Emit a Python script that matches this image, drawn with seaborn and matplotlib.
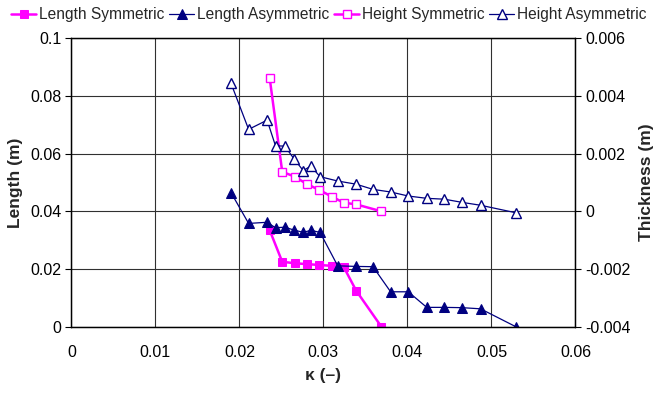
"""Length / thickness vs kappa, symmetric and asymmetric cases"""
import numpy as np
import pandas as pd
import seaborn as sns
import matplotlib.pyplot as plt
from matplotlib.ticker import FuncFormatter, MultipleLocator

# kappa values (x)
kappa_sym = [0.0236, 0.0251, 0.0266, 0.0280, 0.0295, 0.0310, 0.0324, 0.0339, 0.0369]
kappa_asym = [0.0190, 0.0211, 0.0233, 0.0243, 0.0254, 0.0265, 0.0276, 0.0285, 0.0296,
              0.0317, 0.0339, 0.0359, 0.0380, 0.0401, 0.0423, 0.0444, 0.0465, 0.0487, 0.0529]

# left axis: length (m)
length_sym = [0.0335, 0.0225, 0.0220, 0.0217, 0.0214, 0.0211, 0.0208, 0.0125, 0.0]
length_asym = [0.0465, 0.0358, 0.0362, 0.0343, 0.0345, 0.0335, 0.0327, 0.0334, 0.0327,
               0.0211, 0.0209, 0.0208, 0.0121, 0.0121, 0.0067, 0.0067, 0.0066, 0.0062, 0.0]

# right axis: thickness (m)
height_sym = [0.00463, 0.00137, 0.00120, 0.00095, 0.00074, 0.00051, 0.00030, 0.00024, 0.0]
height_asym = [0.00444, 0.00284, 0.00316, 0.00227, 0.00226, 0.00182, 0.00141, 0.00157, 0.00120,
               0.00105, 0.00094, 0.00076, 0.00067, 0.00053, 0.00045, 0.00042, 0.00031, 0.00021, -0.00005]

MAGENTA = '#FF00FF'
NAVY = '#000080'


def fmt(v, pos):
    v = round(v, 6)
    if v == 0:
        return '0'
    return f'{v:g}'


def main():
    sns.set_style('white')
    plt.rcParams['font.family'] = ['Liberation Sans', 'DejaVu Sans']
    plt.rcParams['font.size'] = 11.5

    fig = plt.figure(figsize=(6.58, 3.94), dpi=100)
    ax = fig.add_axes([0.1084, 0.1708, 0.7662, 0.7322])
    ax2 = ax.twinx()

    df_ls = pd.DataFrame({'k': kappa_sym, 'v': length_sym})
    df_la = pd.DataFrame({'k': kappa_asym, 'v': length_asym})
    df_hs = pd.DataFrame({'k': kappa_sym, 'v': height_sym})
    df_ha = pd.DataFrame({'k': kappa_asym, 'v': height_asym})

    sns.lineplot(data=df_ls, x='k', y='v', ax=ax, color=MAGENTA, lw=1.8,
                 marker='s', markersize=6, markeredgecolor=MAGENTA,
                 markerfacecolor=MAGENTA, sort=False, estimator=None,
                 label='Length Symmetric', legend=False)
    sns.lineplot(data=df_la, x='k', y='v', ax=ax, color=NAVY, lw=0.9,
                 marker='^', markersize=6.5, markeredgecolor=NAVY,
                 markerfacecolor=NAVY, sort=False, estimator=None,
                 label='Length Asymmetric', legend=False)
    sns.lineplot(data=df_hs, x='k', y='v', ax=ax2, color=MAGENTA, lw=1.8,
                 marker='s', markersize=6, markeredgecolor=MAGENTA,
                 markerfacecolor='white', markeredgewidth=1.0, sort=False,
                 estimator=None, label='Height Symmetric', legend=False)
    sns.lineplot(data=df_ha, x='k', y='v', ax=ax2, color=NAVY, lw=0.9,
                 marker='^', markersize=6.5, markeredgecolor=NAVY,
                 markerfacecolor='white', markeredgewidth=1.0, sort=False,
                 estimator=None, label='Height Asymmetric', legend=False)

    # axes ranges and ticks
    ax.set_xlim(0, 0.06)
    ax.set_ylim(0, 0.1)
    ax2.set_ylim(-0.004, 0.006)
    ax.xaxis.set_major_locator(MultipleLocator(0.01))
    ax.yaxis.set_major_locator(MultipleLocator(0.02))
    ax2.yaxis.set_major_locator(MultipleLocator(0.002))
    for a in (ax, ax2):
        a.xaxis.set_major_formatter(FuncFormatter(fmt))
        a.yaxis.set_major_formatter(FuncFormatter(fmt))
        a.tick_params(direction='out', length=4, width=0.8, colors='black',
                      labelsize=11.5, pad=3)
        for s in a.spines.values():
            s.set_color('black')
            s.set_linewidth(0.9)
    ax.tick_params(axis='x', pad=9)

    ax.grid(True, color='#303030', linewidth=0.8)
    ax.set_axisbelow(True)

    ax.set_xlabel('κ (–)', fontweight='bold', fontsize=12.5, labelpad=6)
    ax.set_ylabel('Length (m)', fontweight='bold', fontsize=12.5, labelpad=5)
    ax2.set_ylabel('Thickness (m)', fontweight='bold', fontsize=12.5, labelpad=6)
    ax2.set_xlabel('')

    h1, l1 = ax.get_legend_handles_labels()
    h2, l2 = ax2.get_legend_handles_labels()
    fig.legend(h1 + h2, l1 + l2, loc='upper center', bbox_to_anchor=(0.5, 1.005),
               ncol=4, frameon=False, fontsize=11.2, handlelength=1.6,
               handletextpad=0.2, columnspacing=0.3, borderaxespad=0.2)

    fig.savefig('out.png', dpi=100)


if __name__ == "__main__":
    main()
